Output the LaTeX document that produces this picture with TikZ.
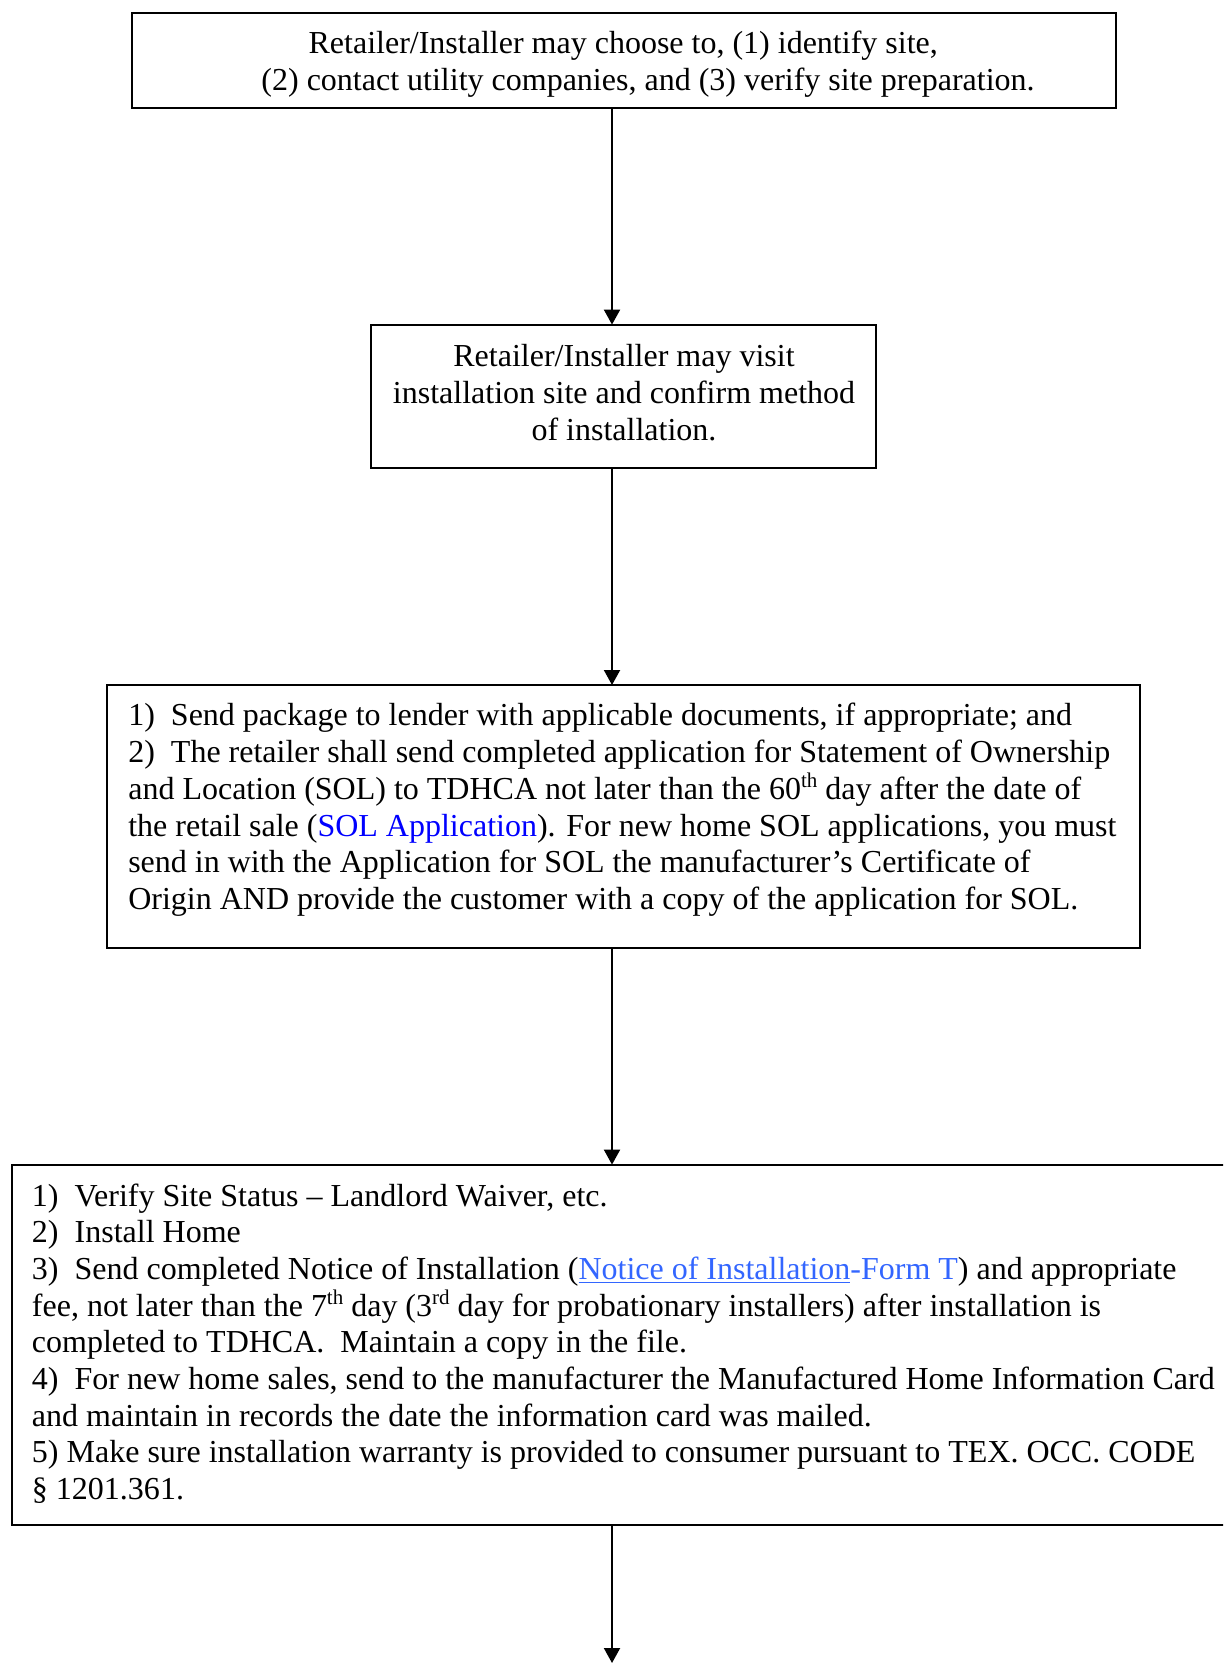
\documentclass[tikz,border=0pt]{standalone}
\usepackage{fontspec}
\setmainfont{Liberation Serif}
\usetikzlibrary{arrows.meta}
\definecolor{solblue}{RGB}{0,0,255}
\definecolor{formblue}{RGB}{51,102,255}
% raised ordinal suffix
\newcommand\ordsup[1]{\raisebox{0.36em}{\fontsize{10.5}{10.5}\selectfont #1}}

\begin{document}
\begin{tikzpicture}[x=0.5pt,y=-0.5pt,
  stepbox/.style={draw=black, line width=1pt, inner sep=0pt, outer sep=0pt},
  txt/.style={inner sep=0pt, outer sep=0pt, font=\fontsize{16}{18.4}\selectfont},
  line/.style={txt, anchor=base west},
  cline/.style={txt, anchor=base},
  flow/.style={line width=1pt, -{Triangle[width=8pt,length=7.5pt]}}]
\useasboundingbox (0,0) rectangle (1223,1663);
\clip (0,0) rectangle (1223,1663);

% boxes
\node[stepbox, minimum width=492.2pt, minimum height=47.75pt] (b1) at (623.7,60.45) {};
\node[stepbox, minimum width=252.5pt, minimum height=71.6pt] (b2) at (623.5,396.2) {};
\node[stepbox, minimum width=516.5pt, minimum height=131.5pt] (b3) at (623.5,816.5) {};
\node[stepbox, minimum width=611.8pt, minimum height=180.2pt] (b4) at (623.5,1344.8) {};

% connectors
\coordinate (ax) at (612,0);
\coordinate (bottom) at (612,1663);
\draw[flow] (b1.south -| ax) -- (b2.north -| ax);
\draw[flow] (b2.south -| ax) -- (b3.north -| ax);
\draw[flow] (b3.south -| ax) -- (b4.north -| ax);
\draw[flow] (b4.south -| ax) -- (bottom);

% box 1 text
\node[cline] (t11) at (623.2,53.7) {Retailer/Installer may choose to, (1) identify site,};
\node[cline] (t12) at (648,90.7) {(2) contact utility companies, and (3) verify site preparation.};

% box 2 text
\node[cline] (t21) at (624,366.2) {Retailer/Installer may visit};
\node[cline] (t22) at (624,403.2) {installation site and confirm method};
\node[cline] (t23) at (624,440.2) {of installation.};

% box 3 text
\node[line] (t31) at (128.3,725) {1)\ \ Send package to lender with applicable documents, if appropriate; and};
\node[line] (t32) at (128.3,762) {2)\ \ The retailer shall send completed application for Statement of Ownership};
\node[line] (t33) at (128.3,799) {and Location (SOL) to TDHCA not later than the 60\ordsup{th} day after the date of};
\node[line] (t34) at (128.3,836) {the retail sale ({\color{solblue}SOL Application}). For new home SOL applications, you must};
\node[line] (t35) at (128.3,872.5) {send in with the Application for SOL the manufacturer’s Certificate of};
\node[line] (t36) at (128.3,909.5) {Origin AND provide the customer with a copy of the application for SOL.};

% box 4 text
\node[line] (t41) at (32,1206) {1)\ \ Verify Site Status – Landlord Waiver, etc.};
\node[line] (t42) at (32,1242.7) {2)\ \ Install Home};
\node[line] (t43) at (32,1279.3) {3)\ \ Send completed Notice of Installation ({\color{formblue}\underline{Notice of Installation}-Form T}) and appropriate};
\node[line] (t44) at (32,1316) {fee, not later than the 7\ordsup{th} day (3\ordsup{rd} day for probationary installers) after installation is};
\node[line] (t45) at (32,1352.7) {completed to TDHCA.\ \ Maintain a copy in the file.};
\node[line] (t46) at (32,1389.4) {4)\ \ For new home sales, send to the manufacturer the Manufactured Home Information Card};
\node[line] (t47) at (32,1426) {and maintain in records the date the information card was mailed.};
\node[line] (t48) at (32,1462.7) {5) Make sure installation warranty is provided to consumer pursuant to TEX. OCC. CODE};
\node[line] (t49) at (32,1499.4) {§ 1201.361.};
\end{tikzpicture}
\end{document}
